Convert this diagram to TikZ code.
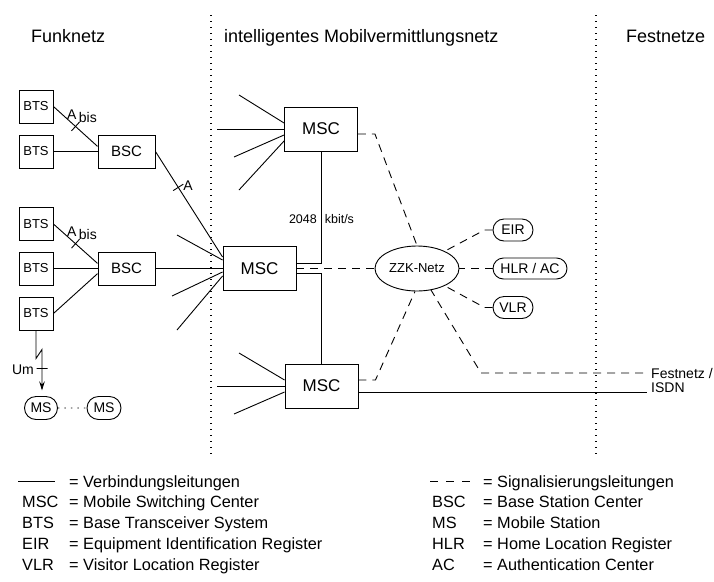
\documentclass[tikz,border=0pt]{standalone}
\usepackage{fontspec}
\setmainfont{Liberation Sans}
\usetikzlibrary{calc,positioning,arrows.meta,shapes.geometric,shapes.misc}

\begin{document}
\begin{tikzpicture}[
x=1pt,y=-1pt,
>={Stealth[length=9pt,width=5.5pt]},
conn/.style={
	line width=0.9pt
},
sig/.style={
	line width=0.9pt,
	dash pattern=on 8pt off 6pt
},
sep/.style={
	line width=1.4pt,
	dash pattern=on 1.4pt off 4.6pt
},
box/.style={
	draw,
	line width=0.9pt,
	inner sep=0pt
},
bts/.style={box,minimum width=34pt,minimum height=33pt,font=\fontsize{13}{15}\selectfont},
bsc/.style={box,minimum width=57pt,minimum height=33pt,font=\fontsize{15}{17}\selectfont},
msc/.style={box,minimum width=73pt,minimum height=44pt,font=\fontsize{17}{19}\selectfont},
reg/.style={
	draw,
	rounded rectangle,
	line width=0.9pt,
	inner sep=0pt,
	minimum height=22pt,
	font=\fontsize{14}{16}\selectfont
},
tick/.style={
	draw,
	line width=0.9pt,
	inner sep=0pt,
	minimum width=0pt,
	minimum height=12pt,
	sloped
},
lbl/.style={font=\fontsize{14}{16}\selectfont,inner sep=0pt},
head/.style={font=\fontsize{18}{20}\selectfont,inner sep=0pt,anchor=base west},
leg/.style={font=\fontsize{16.3}{18}\selectfont,inner sep=0pt,anchor=base west}
]
\useasboundingbox (0,0) rectangle (714,581);

% Bereiche
\node[head] (hfunk) at (31,42) {Funknetz};
\node[head] (hmob) at (224,42) {intelligentes Mobilvermittlungsnetz};
\node[head] (hfest) at (626,42) {Festnetze};
\draw[sep] (211,15) -- (211,456);
\draw[sep] (596,15) -- (596,456);

% Funknetz
\foreach \i/\y in {1/106.5,2/151.5,3/224,4/268.5,5/313.5}
\node[bts] (bts\i) at (36,\y) {BTS};
\node[bsc] (bsc1) at (126.5,151.5) {BSC};
\node[bsc] (bsc2) at (126.5,268.5) {BSC};

\draw[conn] (bts1.east) -- (bsc1.170) node[tick,pos=0.5] {};
\draw[conn] (bts2) -- (bsc1);
\draw[conn] (bts3.east) -- (bsc2.170) node[tick,pos=0.5] {};
\draw[conn] (bts4) -- (bsc2);
\draw[conn] (bts5.east) -- (bsc2.190);
\node[lbl] (abis1) at (82,116) {A\,\raisebox{-0.45ex}{bis}};
\node[lbl] (abis2) at (82,233) {A\,\raisebox{-0.45ex}{bis}};

\node[reg,minimum width=33pt,minimum height=23pt] (ms1) at (41,408) {MS};
\node[reg,minimum width=34pt,minimum height=23pt] (ms2) at (104,408) {MS};
\draw[line width=0.9pt,dash pattern=on 1.5pt off 5pt] (ms1) -- (ms2);
\draw[conn,->] (bts5.south) -- ++(0,28) -- ++(6,-9) -- ++(0,41)
	node[tick,pos=0.46,minimum height=11pt] {};
\node[lbl] (um) at (23,370) {Um};

% Mobilvermittlungsnetz
\node[msc] (msc1) at (321,129) {MSC};
\node[msc] (msc2) at (259.5,268.5) {MSC};
\node[msc] (msc3) at (321.5,386) {MSC};

\foreach \i/\x/\y/\t in {1/239/95/123,2/217/129/129,3/234/157/135,4/239/190/141}{
	\coordinate (fa\i) at (\x,\y);
	\draw[conn] (fa\i) -- (msc1.west |- 0,\t);
}
\foreach \i/\x/\y/\t in {1/177/235/260,2/172/296/272,3/177/330/276}{
	\coordinate (fb\i) at (\x,\y);
	\draw[conn] (fb\i) -- (msc2.west |- 0,\t);
}
\foreach \i/\x/\y/\t in {1/239/353/380,2/217/386/386,3/234/414/392}{
	\coordinate (fc\i) at (\x,\y);
	\draw[conn] (fc\i) -- (msc3.west |- 0,\t);
}
\draw[conn] (bsc1.east) -- (msc2.west |- 0,257) node[tick,pos=0.34] {};
\node[lbl] (a) at (188,186) {A};
\draw[conn] (bsc2) -- (msc2);

\draw[conn] (msc1.south) |- ($(msc2.east)+(0,-5)$);
\draw[conn] (msc3.north) |- ($(msc2.east)+(0,5)$);
\node[lbl,font=\fontsize{12.5}{14}\selectfont] (rate) at (321.5,219) {2048\hspace{8pt}kbit/s};

\node[draw,ellipse,line width=0.9pt,inner sep=0pt,minimum width=84pt,minimum height=45pt,
	font=\fontsize{13}{15}\selectfont] (zzk) at (417,268.5) {ZZK-Netz};

\node[reg,minimum width=40pt] (eir) at (513,230) {EIR};
\node[reg,minimum width=74pt,minimum height=21pt] (hlr) at (530,268.5) {HLR / AC};
\node[reg,minimum width=40pt] (vlr) at (513,307.5) {VLR};

\draw[sig] (msc2) -- (zzk);
\draw[sig] ($(msc1.east)+(0,5)$) -- ++(8,0) -- ++(9,0) -- (zzk.north);
\draw[sig] ($(msc3.east)+(0,-6)$) -- ++(8,0) -- ++(9,0) -- (zzk.-95);
\draw[sig] (eir.west) -- ++(-8,0) -- (zzk.32);
\draw[sig] (hlr.west) -- (zzk.east);
\draw[sig] (vlr.west) -- ++(-8,0) -- (zzk.-32);

% Festnetze
\node[lbl,anchor=west] (fest) at (651,373) {Festnetz /};
\node[lbl,anchor=west] (isdn) at (651,388) {ISDN};
\draw[sig] ($(fest.west)+(-8,0)$) -- (481,373) -- (zzk.-57);
\draw[conn] ($(msc3.east)+(0,6)$) -- ($(isdn.west)+(-4,4)$);

% Legende
\coordinate (l1) at (18,481);
\coordinate (l2) at (55,481);
\draw[conn] (l1) -- (l2);
\node[leg] (lv0) at (69,487) {= Verbindungsleitungen};
\foreach \y/\k/\v in {507/MSC/Mobile Switching Center,528/BTS/Base Transceiver System,
	549/EIR/Equipment Identification Register,570/VLR/Visitor Location Register}{
	\node[leg] (lk\y) at (22,\y) {\k};
	\node[leg] (lv\y) at (69,\y) {= \v};
}
\coordinate (r1) at (430,481);
\coordinate (r2) at (471,481);
\draw[sig,dash pattern=on 8pt off 8pt] (r1) -- (r2);
\node[leg] (rv0) at (483,487) {= Signalisierungsleitungen};
\foreach \y/\k/\v in {507/BSC/Base Station Center,528/MS/Mobile Station,
	549/HLR/Home Location Register,570/AC/Authentication Center}{
	\node[leg] (rk\y) at (432,\y) {\k};
	\node[leg] (rv\y) at (483,\y) {= \v};
}
\end{tikzpicture}
\end{document}
